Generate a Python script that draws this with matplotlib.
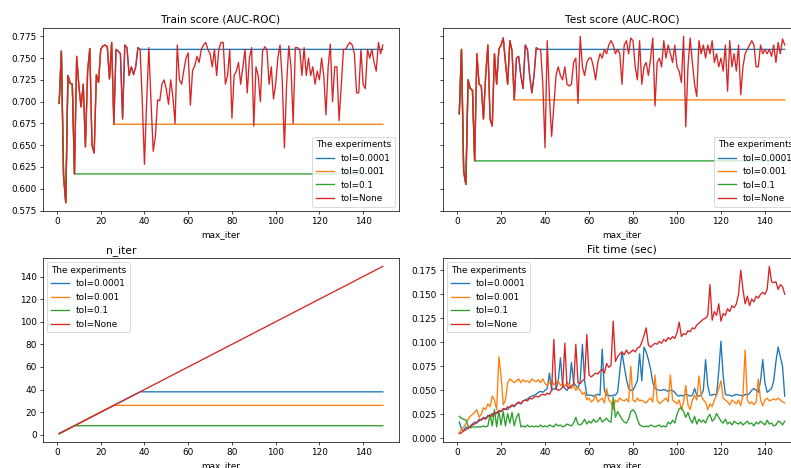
import numpy as np
import matplotlib.pyplot as plt

# max_iter values tried in the experiments
max_iter = np.arange(1, 150)

tol_labels = ['tol=0.0001', 'tol=0.001', 'tol=0.1', 'tol=None']
# iteration where each tolerance made the solver stop (tol=None never stops early)
stop_iter = [38, 26, 8]

# tol=None scores, one per max_iter (1..149)
train_none = [
    0.698, 0.758, 0.615, 0.584, 0.730, 0.721, 0.720, 0.617, 0.752, 0.718,
    0.694, 0.720, 0.648, 0.735, 0.761, 0.650, 0.641, 0.731, 0.722, 0.760,
    0.764, 0.765, 0.763, 0.726, 0.768, 0.674, 0.760, 0.758, 0.755, 0.680,
    0.765, 0.762, 0.730, 0.740, 0.731, 0.740, 0.762, 0.760, 0.700, 0.628,
    0.700, 0.762, 0.700, 0.643, 0.660, 0.702, 0.701, 0.720, 0.725, 0.714,
    0.697, 0.725, 0.705, 0.675, 0.765, 0.725, 0.720, 0.736, 0.750, 0.756,
    0.696, 0.736, 0.741, 0.752, 0.745, 0.760, 0.765, 0.768, 0.760, 0.755,
    0.740, 0.760, 0.730, 0.760, 0.768, 0.768, 0.720, 0.730, 0.760, 0.681,
    0.730, 0.735, 0.745, 0.720, 0.740, 0.760, 0.710, 0.750, 0.762, 0.672,
    0.740, 0.730, 0.700, 0.758, 0.763, 0.760, 0.720, 0.740, 0.703, 0.720,
    0.750, 0.765, 0.725, 0.647, 0.720, 0.764, 0.740, 0.675, 0.762, 0.762,
    0.760, 0.730, 0.762, 0.730, 0.750, 0.730, 0.740, 0.720, 0.735, 0.725,
    0.750, 0.730, 0.685, 0.740, 0.766, 0.700, 0.740, 0.740, 0.678, 0.720,
    0.760, 0.760, 0.765, 0.768, 0.765, 0.755, 0.710, 0.710, 0.760, 0.720,
    0.715, 0.760, 0.750, 0.760, 0.745, 0.735, 0.768, 0.755, 0.765,
]

test_none = [
    0.686, 0.760, 0.620, 0.605, 0.725, 0.715, 0.713, 0.632, 0.755, 0.720,
    0.718, 0.680, 0.730, 0.765, 0.680, 0.672, 0.755, 0.720, 0.760, 0.765,
    0.773, 0.745, 0.720, 0.770, 0.758, 0.702, 0.750, 0.752, 0.730, 0.715,
    0.765, 0.760, 0.730, 0.710, 0.730, 0.762, 0.760, 0.760, 0.720, 0.647,
    0.770, 0.705, 0.660, 0.695, 0.730, 0.740, 0.730, 0.725, 0.740, 0.720,
    0.718, 0.720, 0.745, 0.750, 0.698, 0.775, 0.740, 0.730, 0.745, 0.750,
    0.750, 0.740, 0.725, 0.745, 0.755, 0.750, 0.760, 0.755, 0.765, 0.770,
    0.765, 0.755, 0.760, 0.755, 0.720, 0.765, 0.770, 0.755, 0.773, 0.770,
    0.740, 0.725, 0.770, 0.720, 0.740, 0.745, 0.730, 0.750, 0.773, 0.695,
    0.745, 0.750, 0.740, 0.770, 0.750, 0.765, 0.755, 0.745, 0.765, 0.740,
    0.735, 0.722, 0.775, 0.671, 0.740, 0.773, 0.745, 0.720, 0.706, 0.770,
    0.755, 0.765, 0.750, 0.765, 0.755, 0.770, 0.745, 0.755, 0.740, 0.750,
    0.735, 0.765, 0.712, 0.770, 0.740, 0.755, 0.735, 0.765, 0.708, 0.740,
    0.755, 0.760, 0.765, 0.770, 0.765, 0.740, 0.740, 0.765, 0.755, 0.760,
    0.755, 0.760, 0.752, 0.765, 0.745, 0.768, 0.755, 0.772, 0.765,
]

# fit time in seconds, one list per tolerance
time_0001 = [
    0.017, 0.010, 0.008, 0.012, 0.010, 0.013, 0.015, 0.017, 0.016, 0.020,
    0.019, 0.022, 0.021, 0.024, 0.023, 0.026, 0.025, 0.027, 0.029, 0.028,
    0.030, 0.031, 0.030, 0.033, 0.034, 0.033, 0.036, 0.037, 0.036, 0.039,
    0.040, 0.041, 0.043, 0.044, 0.045, 0.046, 0.048, 0.049, 0.048, 0.050,
    0.052, 0.068, 0.050, 0.052, 0.051, 0.060, 0.084, 0.055, 0.052, 0.050,
    0.054, 0.079, 0.058, 0.055, 0.052, 0.060, 0.098, 0.060, 0.045, 0.045,
    0.045, 0.044, 0.045, 0.046, 0.045, 0.093, 0.050, 0.045, 0.045, 0.044,
    0.045, 0.045, 0.048, 0.070, 0.090, 0.075, 0.062, 0.052, 0.050, 0.050,
    0.055, 0.060, 0.088, 0.060, 0.095, 0.090, 0.082, 0.072, 0.058, 0.052,
    0.051, 0.050, 0.050, 0.051, 0.050, 0.049, 0.050, 0.050, 0.048, 0.045,
    0.044, 0.045, 0.044, 0.046, 0.045, 0.044, 0.045, 0.052, 0.045, 0.044,
    0.045, 0.050, 0.082, 0.055, 0.045, 0.045, 0.046, 0.045, 0.070, 0.101,
    0.065, 0.046, 0.045, 0.045, 0.044, 0.045, 0.046, 0.045, 0.045, 0.044,
    0.046, 0.045, 0.047, 0.050, 0.052, 0.050, 0.048, 0.060, 0.082, 0.058,
    0.048, 0.050, 0.052, 0.060, 0.080, 0.095, 0.085, 0.075, 0.044,
]

time_001 = [
    0.006, 0.009, 0.012, 0.015, 0.020, 0.023, 0.025, 0.027, 0.030, 0.022,
    0.025, 0.032, 0.030, 0.036, 0.033, 0.044, 0.040, 0.030, 0.085, 0.065,
    0.035, 0.040, 0.058, 0.062, 0.060, 0.058, 0.060, 0.062, 0.058, 0.061,
    0.059, 0.060, 0.058, 0.062, 0.060, 0.059, 0.061, 0.058, 0.062, 0.057,
    0.055, 0.058, 0.060, 0.056, 0.058, 0.060, 0.055, 0.057, 0.054, 0.058,
    0.056, 0.052, 0.055, 0.050, 0.053, 0.050, 0.046, 0.048, 0.040, 0.042,
    0.038, 0.040, 0.045, 0.038, 0.040, 0.042, 0.037, 0.052, 0.040, 0.038,
    0.030, 0.040, 0.038, 0.042, 0.040, 0.039, 0.041, 0.038, 0.075, 0.040,
    0.038, 0.042, 0.039, 0.040, 0.038, 0.037, 0.040, 0.042, 0.038, 0.066,
    0.040, 0.036, 0.038, 0.040, 0.042, 0.038, 0.066, 0.040, 0.038, 0.036,
    0.040, 0.030, 0.038, 0.055, 0.035, 0.030, 0.040, 0.045, 0.040, 0.065,
    0.045, 0.040, 0.038, 0.030, 0.036, 0.033, 0.040, 0.045, 0.052, 0.060,
    0.042, 0.040, 0.038, 0.035, 0.040, 0.038, 0.036, 0.040, 0.034, 0.045,
    0.092, 0.040, 0.036, 0.038, 0.035, 0.038, 0.062, 0.040, 0.034, 0.040,
    0.042, 0.039, 0.040, 0.041, 0.040, 0.042, 0.040, 0.038, 0.037,
]

time_01 = [
    0.023, 0.021, 0.020, 0.019, 0.013, 0.011, 0.012, 0.012, 0.012, 0.012,
    0.012, 0.013, 0.012, 0.013, 0.025, 0.013, 0.030, 0.012, 0.029, 0.014,
    0.028, 0.013, 0.026, 0.016, 0.027, 0.013, 0.022, 0.026, 0.012, 0.013,
    0.012, 0.014, 0.012, 0.013, 0.012, 0.013, 0.012, 0.014, 0.012, 0.013,
    0.012, 0.014, 0.013, 0.012, 0.015, 0.013, 0.014, 0.012, 0.013, 0.015,
    0.014, 0.013, 0.016, 0.022, 0.015, 0.014, 0.016, 0.020, 0.015, 0.018,
    0.016, 0.020, 0.017, 0.018, 0.022, 0.017, 0.019, 0.021, 0.018, 0.017,
    0.043, 0.022, 0.028, 0.024, 0.020, 0.017, 0.016, 0.020, 0.028, 0.030,
    0.027, 0.020, 0.014, 0.013, 0.012, 0.013, 0.012, 0.014, 0.013, 0.012,
    0.013, 0.014, 0.012, 0.013, 0.012, 0.017, 0.015, 0.019, 0.016, 0.025,
    0.031, 0.032, 0.028, 0.022, 0.027, 0.020, 0.016, 0.023, 0.015, 0.020,
    0.017, 0.019, 0.016, 0.022, 0.025, 0.018, 0.020, 0.026, 0.022, 0.018,
    0.016, 0.020, 0.015, 0.017, 0.014, 0.018, 0.016, 0.015, 0.017, 0.014,
    0.016, 0.018, 0.015, 0.016, 0.013, 0.017, 0.015, 0.018, 0.016, 0.014,
    0.019, 0.015, 0.016, 0.013, 0.014, 0.018, 0.017, 0.014, 0.018,
]

time_none = [
    0.005, 0.006, 0.008, 0.009, 0.011, 0.012, 0.014, 0.015, 0.017, 0.018,
    0.020, 0.021, 0.020, 0.023, 0.024, 0.023, 0.027, 0.026, 0.029, 0.028,
    0.031, 0.030, 0.033, 0.032, 0.035, 0.034, 0.036, 0.038, 0.036, 0.039,
    0.040, 0.039, 0.042, 0.041, 0.043, 0.044, 0.043, 0.045, 0.046, 0.045,
    0.047, 0.046, 0.050, 0.103, 0.052, 0.050, 0.051, 0.053, 0.099, 0.054,
    0.052, 0.055, 0.056, 0.098, 0.058, 0.057, 0.060, 0.062, 0.108, 0.066,
    0.064, 0.066, 0.068, 0.067, 0.070, 0.072, 0.068, 0.078, 0.074, 0.076,
    0.122, 0.080, 0.085, 0.088, 0.090, 0.087, 0.092, 0.088, 0.090, 0.092,
    0.090, 0.094, 0.095, 0.100, 0.107, 0.115, 0.097, 0.095, 0.097, 0.099,
    0.098, 0.101, 0.099, 0.103, 0.101, 0.105, 0.103, 0.106, 0.104, 0.110,
    0.121, 0.106, 0.109, 0.108, 0.112, 0.111, 0.115, 0.114, 0.118, 0.120,
    0.122, 0.124, 0.125, 0.128, 0.160, 0.123, 0.132, 0.128, 0.140, 0.122,
    0.130, 0.128, 0.135, 0.132, 0.138, 0.136, 0.140, 0.150, 0.175, 0.155,
    0.140, 0.148, 0.138, 0.145, 0.142, 0.148, 0.146, 0.150, 0.152, 0.150,
    0.155, 0.179, 0.163, 0.162, 0.163, 0.155, 0.160, 0.158, 0.150,
]


def stopped(series, stop):
    # once the solver has converged, nothing changes for larger max_iter
    s = np.array(series, dtype=float)
    s[stop:] = s[stop - 1]
    return s


train_scores = [stopped(train_none, k) for k in stop_iter] + [np.array(train_none)]
test_scores = [stopped(test_none, k) for k in stop_iter] + [np.array(test_none)]
n_iters = [stopped(max_iter, k) for k in stop_iter] + [max_iter]
fit_times = [time_0001, time_001, time_01, time_none]

W, H = 791, 468
DPI = 64
fig = plt.figure(figsize=(W / DPI, H / DPI), dpi=DPI)


def box(left, top, right, bottom):
    # pixel box -> figure fraction
    return [left / W, 1 - bottom / H, (right - left) / W, (bottom - top) / H]


ax_train = fig.add_axes(box(43, 28, 399, 211))
ax_test = fig.add_axes(box(443, 28, 801, 211), sharey=ax_train)
ax_niter = fig.add_axes(box(43, 258, 399, 442))
ax_time = fig.add_axes(box(443, 258, 801, 442))

for ys, lab in zip(train_scores, tol_labels):
    ax_train.plot(max_iter, ys, label=lab)
ax_train.set_title('Train score (AUC-ROC)')
ax_train.set_xlabel('max_iter')
ax_train.legend(title='The experiments', loc='lower right')

for ys, lab in zip(test_scores, tol_labels):
    ax_test.plot(max_iter, ys, label=lab)
ax_test.set_title('Test score (AUC-ROC)')
ax_test.set_xlabel('max_iter')
ax_test.tick_params(labelleft=False)
ax_test.legend(title='The experiments', loc='lower right')

for ys, lab in zip(n_iters, tol_labels):
    ax_niter.plot(max_iter, ys, label=lab)
ax_niter.set_title('n_iter', x=0.22)
ax_niter.set_xlabel('max_iter')
ax_niter.legend(title='The experiments', loc='upper left')

for ys, lab in zip(fit_times, tol_labels):
    ax_time.plot(max_iter, ys, label=lab)
ax_time.set_title('Fit time (sec)')
ax_time.set_xlabel('max_iter')
ax_time.legend(title='The experiments', loc='upper left')

ax_train.set_yticks(np.arange(0.575, 0.776, 0.025))

fig.savefig('out.png', dpi=DPI)
